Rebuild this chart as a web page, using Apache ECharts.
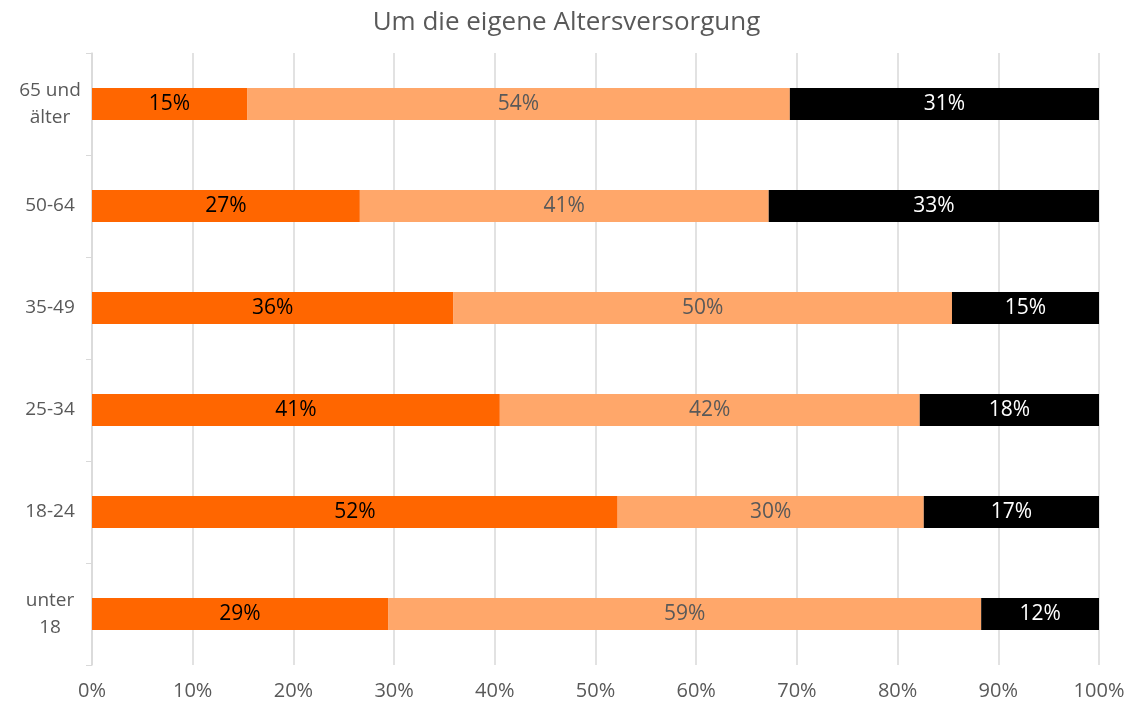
<!DOCTYPE html>
<html>
<head>
<meta charset="utf-8">
<script src="https://cdn.jsdelivr.net/npm/echarts@6/dist/echarts.min.js"></script>
<style>
  html, body { margin: 0; padding: 0; background: #fff; }
  #chart { width: 1133px; height: 709px; }
</style>
</head>
<body>
<div id="chart"></div>
<script>
// Um die eigene Altersversorgung - 100% stacked bars

var categories = ['unter\n18', '18-24', '25-34', '35-49', '50-64', '65 und\nälter'];
var part1 = [29.4, 52.2, 40.5, 35.9, 26.6, 15.4];
var part2 = [58.9, 30.4, 41.7, 49.5, 40.6, 53.9];
var part3 = [11.7, 17.4, 17.8, 14.6, 32.8, 30.7];
var labels1 = ['29%', '52%', '41%', '36%', '27%', '15%'];
var labels2 = ['59%', '30%', '42%', '50%', '41%', '54%'];
var labels3 = ['12%', '17%', '18%', '15%', '33%', '31%'];

var font = '"Open Sans", "Noto Sans", sans-serif';

function labelFrom(arr, color) {
    return {
        show: true,
        position: 'inside',
        color: color,
        fontFamily: font,
        fontSize: 21,
        formatter: function (p) { return arr[p.dataIndex]; }
    };
}

var myChart = echarts.init(document.getElementById('chart'));
var option = {
    title: {
        text: 'Um die eigene Altersversorgung',
        left: 'center',
        top: 5,
        textStyle: { color: '#595959', fontFamily: font, fontSize: 26, fontWeight: 'normal' }
    },
    grid: { left: 92, right: 34, top: 53, bottom: 44 },
    xAxis: {
        type: 'value',
        min: 0,
        max: 100,
        interval: 10,
        axisLine: { show: false },
        axisTick: { show: false },
        splitLine: { lineStyle: { color: '#d9d9d9', width: 1.5 } },
        axisLabel: {
            formatter: '{value}%',
            color: '#595959',
            fontFamily: font,
            fontSize: 20,
            margin: 16
        }
    },
    yAxis: {
        type: 'category',
        data: categories,
        axisLine: { show: true, lineStyle: { color: '#d9d9d9', width: 1.5 } },
        axisTick: { show: true, length: 6, lineStyle: { color: '#d9d9d9' } },
        axisLabel: {
            color: '#595959',
            fontFamily: font,
            fontSize: 19,
            lineHeight: 27,
            margin: 42,
            align: 'center'
        }
    },
    series: [
        {
            type: 'bar', stack: 'a', barWidth: 32,
            data: part1,
            itemStyle: { color: '#ff6600' },
            label: labelFrom(labels1, '#000000')
        },
        {
            type: 'bar', stack: 'a', barWidth: 32,
            data: part2,
            itemStyle: { color: '#ffa76a' },
            label: labelFrom(labels2, '#595959')
        },
        {
            type: 'bar', stack: 'a', barWidth: 32,
            data: part3,
            itemStyle: { color: '#000000' },
            label: labelFrom(labels3, '#ffffff')
        }
    ]
};
myChart.setOption(option);
</script>
</body>
</html>
